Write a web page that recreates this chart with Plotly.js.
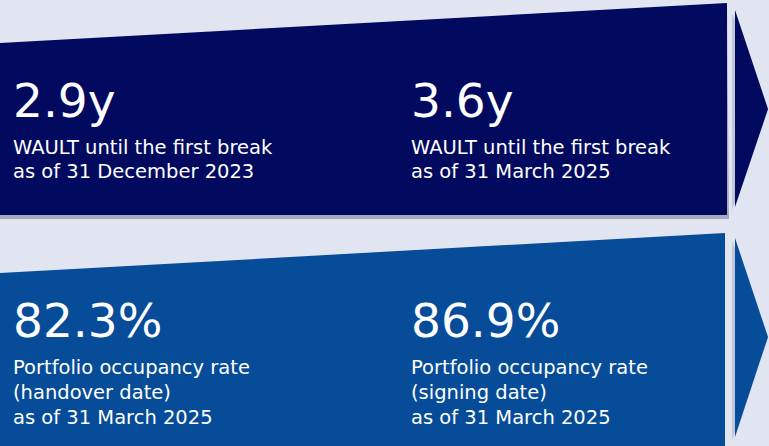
<!DOCTYPE html>
<html><head><meta charset="utf-8">
<script src="https://cdn.plot.ly/plotly-3.0.1.min.js"></script>
<style>html,body{margin:0;padding:0;background:#e1e5f2;}#chart{width:769px;height:446px;}</style>
</head><body><div id="chart"></div>
<script>
// Data
const values = ["2.9y", "3.6y", "82.3%", "86.9%"];
const descriptions = [
  ["WAULT until the first break", "as of 31 December 2023"],
  ["WAULT until the first break", "as of 31 March 2025"],
  ["Portfolio occupancy rate", "(handover date)", "as of 31 March 2025"],
  ["Portfolio occupancy rate", "(signing date)", "as of 31 March 2025"]
];
const columnX = [11, 409, 11, 409];
const valueY = [100, 100, 320.5, 320.5];
const lineY0 = [147.5, 147.5, 367.5, 367.5];
const lineStep = [24, 24, 25, 25];

const FONT = "'DejaVu Sans', sans-serif";
const navy = "#020a5f";
const blue = "#064c99";

const shapes = [
  // shadows
  {type:"path", path:"M0,46 L727,6 L729,219 L0,219 Z", fillcolor:"rgba(60,60,90,0.35)", line:{width:0}, layer:"below"},
  {type:"path", path:"M732,13 L768,110 L732,210 Z", fillcolor:"rgba(60,60,90,0.18)", line:{width:0}, layer:"below"},
  {type:"path", path:"M732,241 L768,338 L732,440 Z", fillcolor:"rgba(60,60,90,0.18)", line:{width:0}, layer:"below"},
  // top panel
  {type:"path", path:"M0,43 L727,3 L727,215 L0,215 Z", fillcolor:navy, line:{width:0}, layer:"below"},
  {type:"path", path:"M735,10 L768,109 L735,207 Z", fillcolor:navy, line:{width:0}, layer:"below"},
  // bottom panel
  {type:"path", path:"M0,273 L725,233 L725,446 L0,446 Z", fillcolor:blue, line:{width:0}, layer:"below"},
  {type:"path", path:"M735,238 L768,337 L735,437 Z", fillcolor:blue, line:{width:0}, layer:"below"}
];

const annotations = [];
values.forEach((v, i) => {
  annotations.push({x: columnX[i], y: valueY[i], xref:"x", yref:"y", text: v, showarrow:false,
    xanchor:"left", yanchor:"middle", font:{family:FONT, size:47, color:"#ffffff"}});
  descriptions[i].forEach((t, j) => {
    annotations.push({x: columnX[i], y: lineY0[i] + j*lineStep[i], xref:"x", yref:"y", text: t, showarrow:false,
      xanchor:"left", yanchor:"middle", font:{family:FONT, size:19.5, color:"#ffffff"}});
  });
});

Plotly.newPlot("chart", [], {
  width:769, height:446,
  margin:{l:0,r:0,t:0,b:0},
  paper_bgcolor:"#e1e5f2", plot_bgcolor:"#e1e5f2",
  xaxis:{range:[0,769], visible:false, fixedrange:true},
  yaxis:{range:[446,0], visible:false, fixedrange:true},
  shapes: shapes, annotations: annotations, showlegend:false
}, {displayModeBar:false, staticPlot:true});
</script></body></html>
